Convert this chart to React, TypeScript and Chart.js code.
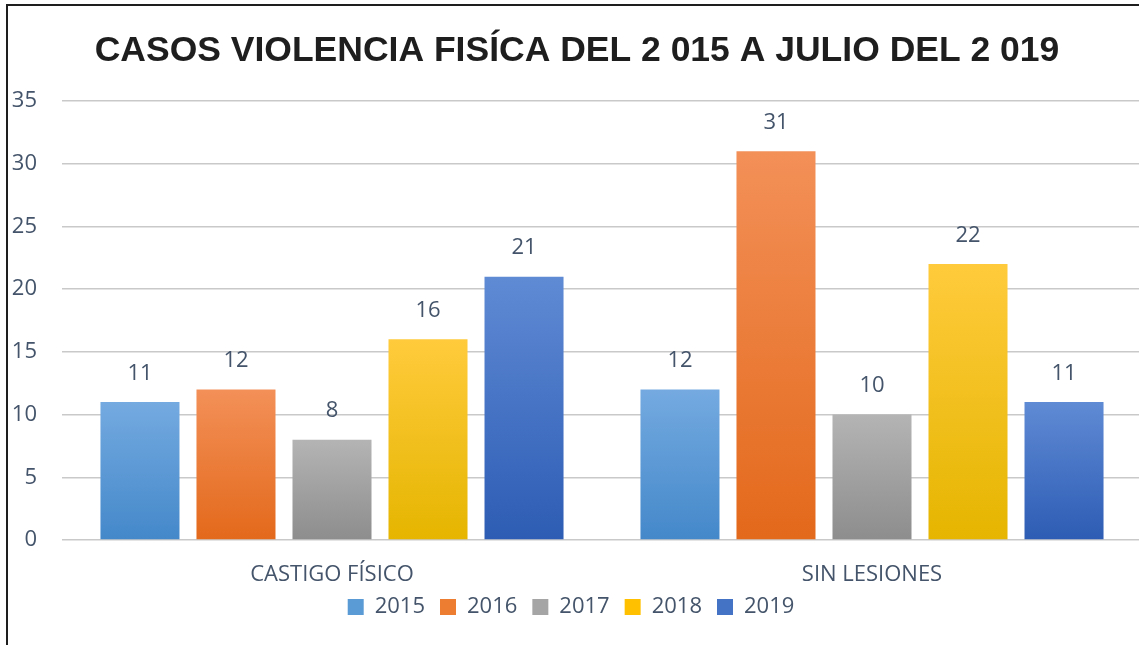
import React, { useEffect, useRef } from "react";
import { Chart, registerables } from "chart.js";

Chart.register(...registerables);

const titleText = "CASOS VIOLENCIA FISÍCA DEL 2 015 A JULIO DEL 2 019";
const categories = ["CASTIGO FÍSICO", "SIN LESIONES"];
const seriesLabels = ["2015", "2016", "2017", "2018", "2019"];
const values2015 = [11, 12];
const values2016 = [12, 31];
const values2017 = [8, 10];
const values2018 = [16, 22];
const values2019 = [21, 11];
const yMin = 0;
const yMax = 35;
const yStep = 5;

const seriesValues = [values2015, values2016, values2017, values2018, values2019];
const colorsTop = ["#74AAE0", "#F39058", "#B4B4B4", "#FFCB3C", "#5F8AD4"];
const colorsBottom = ["#4488CA", "#E3691B", "#8D8D8D", "#E5B500", "#2D5CB4"];
const colorsMid = ["#5B9BD5", "#ED7D31", "#A5A5A5", "#FFC000", "#4472C4"];

const TEXT = "#44546A";
const FONT = "'Open Sans', 'DejaVu Sans', sans-serif";

const titleShiftPlugin = {
  id: "titleShift",
  beforeDraw(chart: any) {
    const tb = chart.titleBlock;
    if (tb && !tb._shifted) {
      tb.left += 12;
      tb._shifted = true;
    }
  },
};

const labelsPlugin = {
  id: "labelsPlugin",
  afterDatasetsDraw(chart: any) {
    const ctx = chart.ctx;
    ctx.save();
    ctx.font = `22px ${FONT}`;
    ctx.fillStyle = TEXT;
    ctx.textAlign = "center";
    ctx.textBaseline = "middle";
    chart.data.datasets.forEach((ds: any, i: number) => {
      const meta = chart.getDatasetMeta(i);
      meta.data.forEach((bar: any, j: number) => {
        ctx.fillText(String(ds.data[j]), bar.x, bar.y - 28.5);
      });
    });
    const xs = chart.scales.x;
    (chart.data.labels as string[]).forEach((lab, i) => {
      ctx.fillText(lab, xs.getPixelForValue(i), chart.chartArea.bottom + 35);
    });
    ctx.restore();
  },
};

export default function App() {
  const ref = useRef<HTMLCanvasElement | null>(null);

  useEffect(() => {
    let chart: Chart | null = null;
    let cancelled = false;
    const make = () => {
      if (cancelled || !ref.current) return;
      chart = new Chart(ref.current, {
        type: "bar",
        data: {
          labels: categories,
          datasets: seriesLabels.map((lab, i) => ({
            label: lab,
            data: seriesValues[i],
            backgroundColor: (c: any) => {
              const ch = c.chart;
              const ys = ch.scales?.y;
              if (!ch.chartArea || !ys || c.type !== "data") return colorsMid[i];
              const top = ys.getPixelForValue(c.raw);
              const bottom = ys.getPixelForValue(0);
              const g = ch.ctx.createLinearGradient(0, top, 0, bottom);
              g.addColorStop(0, colorsTop[i]);
              g.addColorStop(1, colorsBottom[i]);
              return g;
            },
            borderWidth: 0,
            categoryPercentage: 0.889,
            barPercentage: 0.823,
          })),
        },
        options: {
          responsive: false,
          maintainAspectRatio: false,
          devicePixelRatio: 1,
          animation: false,
          layout: { padding: { top: 8, left: 0, right: 0, bottom: 17 } },
          scales: {
            x: {
              grid: { display: false },
              border: { display: false },
              ticks: { display: false },
              afterFit: (s: any) => {
                s.height = 41;
              },
            },
            y: {
              min: yMin,
              max: yMax,
              ticks: { stepSize: yStep, color: TEXT, font: { family: FONT, size: 22 }, padding: 25 },
              grid: { color: "#C9C9C9", lineWidth: 1.5, drawTicks: false },
              border: { display: false },
              afterFit: (s: any) => {
                s.width = 62;
              },
            },
          },
          plugins: {
            title: {
              display: true,
              text: titleText,
              color: "#1E1E1E",
              font: { family: "'Liberation Sans', Arial, sans-serif", size: 35.5, weight: "bold" },
              padding: { top: 22, bottom: 28.5 },
            },
            legend: {
              position: "bottom",
              labels: {
                color: TEXT,
                font: { family: FONT, size: 22 },
                boxWidth: 16,
                boxHeight: 16,
                padding: 15,
                generateLabels: () =>
                  seriesLabels.map((lab, i) => ({
                    text: lab,
                    fillStyle: colorsMid[i],
                    strokeStyle: colorsMid[i],
                    lineWidth: 0,
                    hidden: false,
                    datasetIndex: i,
                    fontColor: TEXT,
                  })),
              },
            },
            tooltip: { enabled: false },
          },
        },
        plugins: [titleShiftPlugin, labelsPlugin],
      } as any);
    };
    const fonts = (document as any).fonts;
    if (fonts && fonts.load) {
      Promise.all([
        fonts.load("22px 'Open Sans'"),
        fonts.load("bold 35px 'Liberation Sans'"),
      ])
        .catch(() => null)
        .then(make);
    } else {
      make();
    }
    return () => {
      cancelled = true;
      if (chart) chart.destroy();
    };
  }, []);

  return (
    <div
      style={{
        position: "fixed",
        left: 0,
        top: 0,
        width: 1139,
        height: 645,
        overflow: "hidden",
        background: "#FFFFFF",
      }}
    >
      <canvas ref={ref} width={1142} height={645} style={{ position: "absolute", left: 0, top: 0 }} />
      <div
        style={{
          position: "absolute",
          left: 6,
          top: 4,
          width: 1300,
          height: 800,
          border: "2px solid #1E1E1E",
          boxSizing: "border-box",
          pointerEvents: "none",
        }}
      />
    </div>
  );
}
